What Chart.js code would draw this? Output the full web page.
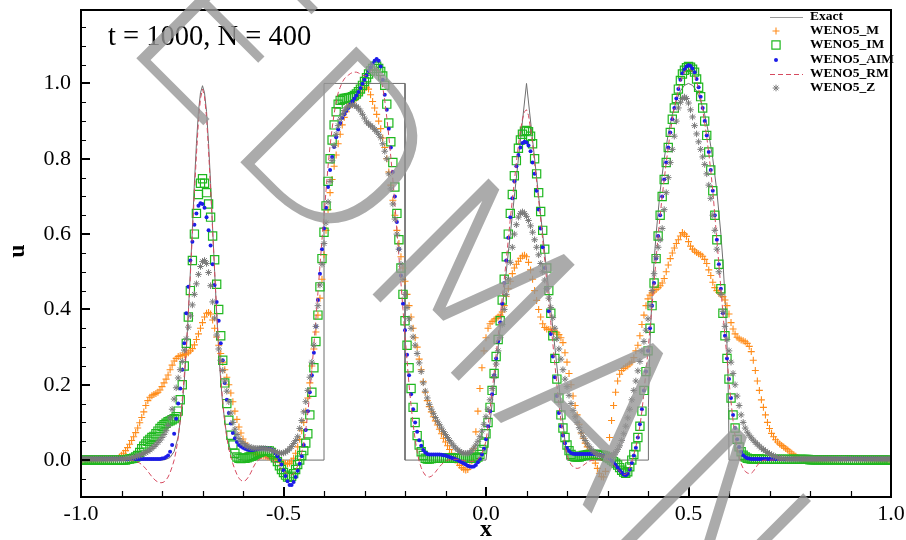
<!DOCTYPE html>
<html>
<head>
<meta charset="utf-8">
<title>t = 1000, N = 400</title>
<script src="https://cdn.jsdelivr.net/npm/chart.js@4.4.0/dist/chart.umd.min.js"></script>
<style>
  html, body { margin: 0; padding: 0; background: #fff; }
  #chart { display: block; }
</style>
</head>
<body>
<canvas id="chart" width="906" height="540"></canvas>
<script>
// Linear advection, Jiang-Shu initial data, t = 1000 on N = 400 cells.
// Solution values are sampled every 0.005 in x, one row per 0.1 of the domain.
const X_START = -1;
const X_STEP = 0.005;
const N_PTS = 401;

const xTickValues = [-1, -0.5, 0, 0.5, 1];
const xMinorTicks = [-0.9, -0.8, -0.7, -0.6, -0.4, -0.3, -0.2, -0.1, 0.1, 0.2, 0.3, 0.4, 0.6, 0.7, 0.8, 0.9];
const yTickValues = [0, 0.2, 0.4, 0.6, 0.8, 1.0];
const yMinorTicks = [-0.05, 0.05, 0.1, 0.15, 0.25, 0.3, 0.35, 0.45, 0.5, 0.55, 0.65, 0.7, 0.75, 0.85, 0.9, 0.95, 1.05, 1.1, 1.15];
const Y_MIN = -0.098;
const Y_MAX = 1.195;

// exact solution (gaussians, square, triangle, ellipse)
const exactX = [-1, -0.8, -0.79, -0.78, -0.77, -0.76, -0.75, -0.745, -0.74, -0.735, -0.73, -0.725, -0.72, -0.715, -0.71, -0.705,
  -0.7, -0.695, -0.69, -0.685, -0.68, -0.675, -0.67, -0.665, -0.66, -0.655, -0.65, -0.64, -0.63, -0.62, -0.61, -0.6,
  -0.4, -0.4, -0.2, -0.2, 0, 0.1, 0.2,
  0.4, 0.401, 0.403, 0.406, 0.41, 0.415, 0.42, 0.43, 0.44, 0.45, 0.46, 0.47, 0.48, 0.49, 0.5,
  0.51, 0.52, 0.53, 0.54, 0.55, 0.56, 0.57, 0.58, 0.585, 0.59, 0.594, 0.597, 0.599, 0.6, 1];
const exactU = [0, 0, 0.002, 0.007, 0.023, 0.062, 0.146, 0.21, 0.29, 0.39, 0.5, 0.615, 0.735, 0.84, 0.925, 0.975,
  0.994, 0.975, 0.925, 0.84, 0.735, 0.615, 0.5, 0.39, 0.29, 0.21, 0.146, 0.062, 0.023, 0.007, 0.002, 0,
  0, 1, 1, 0, 0, 1, 0,
  0, 0.14, 0.24, 0.34, 0.436, 0.527, 0.6, 0.714, 0.8, 0.866, 0.917, 0.954, 0.98, 0.995, 1,
  0.995, 0.98, 0.954, 0.917, 0.866, 0.8, 0.714, 0.6, 0.527, 0.436, 0.34, 0.24, 0.14, 0, 0];

const weno5M = [
  0, 0, 0, 0, 0, 0, 0, 0, 0, 0, 0, 0, 0, 0, 0, 0, 0, 0.002, 0.004, 0.008,
  0.013, 0.018, 0.025, 0.033, 0.042, 0.052, 0.062, 0.073, 0.085, 0.099, 0.113, 0.128, 0.145, 0.158, 0.167, 0.171, 0.174, 0.177, 0.18, 0.186,
  0.195, 0.205, 0.215, 0.226, 0.24, 0.252, 0.263, 0.27, 0.275, 0.277, 0.278, 0.28, 0.282, 0.285, 0.29, 0.296, 0.306, 0.32, 0.335, 0.35,
  0.365, 0.38, 0.39, 0.392, 0.388, 0.372, 0.35, 0.327, 0.305, 0.283, 0.26, 0.24, 0.22, 0.2, 0.178, 0.155, 0.13, 0.108, 0.088, 0.072,
  0.056, 0.045, 0.036, 0.029, 0.024, 0.02, 0.017, 0.015, 0.013, 0.012, 0.011, 0.01, 0.009, 0.008, 0.007, 0.005, 0.003, 0.001, -0.002, -0.005,
  -0.008, -0.01, -0.01, -0.008, -0.003, 0.005, 0.018, 0.035, 0.055, 0.078, 0.1, 0.13, 0.165, 0.205, 0.25, 0.295, 0.34, 0.385, 0.43, 0.48,
  0.545, 0.61, 0.665, 0.71, 0.745, 0.78, 0.81, 0.84, 0.865, 0.89, 0.91, 0.925, 0.937, 0.945, 0.95, 0.955, 0.962, 0.97, 0.977, 0.983,
  0.988, 0.99, 0.985, 0.97, 0.952, 0.935, 0.918, 0.9, 0.88, 0.855, 0.83, 0.8, 0.765, 0.73, 0.69, 0.65, 0.61, 0.575, 0.54, 0.51,
  0.475, 0.44, 0.41, 0.38, 0.35, 0.325, 0.3, 0.268, 0.24, 0.208, 0.18, 0.158, 0.142, 0.128, 0.115, 0.104, 0.093, 0.082, 0.07, 0.058,
  0.048, 0.038, 0.028, 0.018, 0.009, 0.001, -0.007, -0.014, -0.02, -0.024, -0.026, -0.025, -0.018, -0.002, 0.03, 0.075, 0.13, 0.19, 0.245, 0.29,
  0.325, 0.35, 0.362, 0.368, 0.372, 0.376, 0.38, 0.385, 0.393, 0.41, 0.435, 0.455, 0.475, 0.495, 0.51, 0.52, 0.528, 0.536, 0.542, 0.544,
  0.54, 0.525, 0.505, 0.48, 0.45, 0.424, 0.4, 0.38, 0.362, 0.352, 0.348, 0.347, 0.346, 0.345, 0.342, 0.338, 0.333, 0.325, 0.312, 0.285,
  0.26, 0.23, 0.2, 0.17, 0.145, 0.12, 0.095, 0.072, 0.058, 0.045, 0.035, 0.026, 0.017, 0.006, -0.008, -0.022, -0.035, -0.044, -0.045, -0.03,
  0.01, 0.06, 0.105, 0.145, 0.18, 0.21, 0.228, 0.238, 0.243, 0.247, 0.25, 0.255, 0.26, 0.272, 0.29, 0.305, 0.33, 0.36, 0.385, 0.41,
  0.428, 0.438, 0.444, 0.449, 0.453, 0.458, 0.463, 0.47, 0.482, 0.5, 0.518, 0.535, 0.55, 0.563, 0.575, 0.585, 0.595, 0.604, 0.6, 0.594,
  0.58, 0.568, 0.56, 0.555, 0.551, 0.548, 0.545, 0.541, 0.533, 0.522, 0.505, 0.49, 0.472, 0.458, 0.45, 0.445, 0.44, 0.434, 0.425, 0.41,
  0.388, 0.365, 0.348, 0.335, 0.326, 0.322, 0.319, 0.317, 0.314, 0.31, 0.302, 0.288, 0.265, 0.238, 0.21, 0.185, 0.16, 0.14, 0.12, 0.1,
  0.084, 0.071, 0.062, 0.054, 0.048, 0.043, 0.039, 0.035, 0.031, 0.027, 0.022, 0.018, 0.014, 0.01, 0.007, 0.005, 0.003, 0.002, 0.001, 0,
  0, 0, 0, 0, 0, 0, 0, 0, 0, 0, 0, 0, 0, 0, 0, 0, 0, 0, 0, 0,
  0, 0, 0, 0, 0, 0, 0, 0, 0, 0, 0, 0, 0, 0, 0, 0, 0, 0, 0, 0,
  0
];

const weno5IM = [
  0, 0, 0, 0, 0, 0, 0, 0, 0, 0, 0, 0, 0, 0, 0, 0, 0, 0, 0, 0,
  0, 0, 0, 0.002, 0.003, 0.004, 0.005, 0.008, 0.012, 0.02, 0.03, 0.037, 0.043, 0.05, 0.055, 0.06, 0.063, 0.07, 0.077, 0.084,
  0.089, 0.094, 0.098, 0.102, 0.104, 0.107, 0.11, 0.115, 0.13, 0.16, 0.2, 0.25, 0.31, 0.38, 0.45, 0.53, 0.6, 0.655, 0.705, 0.735,
  0.747, 0.735, 0.71, 0.68, 0.645, 0.595, 0.532, 0.467, 0.4, 0.33, 0.265, 0.205, 0.15, 0.106, 0.066, 0.04, 0.018, 0.008, 0.005, 0.004,
  0.005, 0.005, 0.006, 0.008, 0.01, 0.012, 0.015, 0.018, 0.02, 0.022, 0.024, 0.025, 0.025, 0.024, 0.02, 0.014, 0.006, -0.004, -0.015, -0.025,
  -0.033, -0.04, -0.045, -0.046, -0.043, -0.036, -0.025, -0.012, 0, 0.012, 0.025, 0.045, 0.07, 0.12, 0.18, 0.245, 0.315, 0.385, 0.46, 0.535,
  0.605, 0.675, 0.74, 0.8, 0.85, 0.89, 0.925, 0.945, 0.955, 0.958, 0.96, 0.961, 0.962, 0.963, 0.965, 0.968, 0.972, 0.978, 0.985, 0.995,
  1.005, 1.015, 1.025, 1.033, 1.04, 1.046, 1.046, 1.04, 1.032, 1.02, 0.995, 0.945, 0.895, 0.845, 0.79, 0.725, 0.655, 0.585, 0.51, 0.44,
  0.37, 0.305, 0.245, 0.19, 0.14, 0.1, 0.065, 0.04, 0.022, 0.012, 0.005, 0.003, 0.003, 0.004, 0.005, 0.005, 0.005, 0.005, 0.005, 0.005,
  0.005, 0.005, 0.005, 0.005, 0.005, 0.005, 0.005, 0.005, 0.005, 0.005, 0.005, 0.005, 0.005, 0.005, 0.005, 0.005, 0.008, 0.015, 0.028, 0.045,
  0.07, 0.1, 0.14, 0.185, 0.23, 0.275, 0.32, 0.37, 0.425, 0.48, 0.54, 0.6, 0.655, 0.705, 0.755, 0.795, 0.828, 0.85, 0.865, 0.873,
  0.875, 0.872, 0.86, 0.84, 0.8, 0.76, 0.71, 0.66, 0.61, 0.56, 0.51, 0.45, 0.39, 0.33, 0.27, 0.215, 0.165, 0.12, 0.085, 0.06,
  0.04, 0.025, 0.015, 0.01, 0.008, 0.008, 0.008, 0.01, 0.012, 0.013, 0.014, 0.015, 0.015, 0.015, 0.015, 0.015, 0.014, 0.013, 0.012, 0.01,
  0.007, 0.004, 0, -0.004, -0.008, -0.013, -0.02, -0.027, -0.032, -0.035, -0.031, -0.018, 0, 0.015, 0.035, 0.06, 0.09, 0.13, 0.185, 0.235,
  0.29, 0.35, 0.41, 0.47, 0.535, 0.595, 0.65, 0.7, 0.745, 0.79, 0.83, 0.87, 0.905, 0.935, 0.96, 0.985, 1.008, 1.025, 1.035, 1.042,
  1.045, 1.043, 1.038, 1.03, 1.012, 0.99, 0.965, 0.935, 0.9, 0.862, 0.818, 0.77, 0.715, 0.65, 0.585, 0.52, 0.455, 0.39, 0.33, 0.27,
  0.215, 0.165, 0.12, 0.085, 0.055, 0.035, 0.022, 0.013, 0.008, 0.005, 0.004, 0.003, 0.003, 0.003, 0.003, 0.003, 0.002, 0.002, 0.002, 0.002,
  0.002, 0.002, 0.002, 0.002, 0.002, 0.002, 0.002, 0.002, 0.002, 0.002, 0.002, 0.002, 0.002, 0.002, 0.002, 0.002, 0.002, 0.002, 0.002, 0.002,
  0.001, 0.001, 0.001, 0.001, 0.001, 0.001, 0.001, 0.001, 0.001, 0.001, 0.001, 0.001, 0.001, 0.001, 0.001, 0.001, 0.001, 0.001, 0.001, 0.001,
  0, 0, 0, 0, 0, 0, 0, 0, 0, 0, 0, 0, 0, 0, 0, 0, 0, 0, 0, 0,
  0
];

const weno5AIM = [
  0.003, 0.003, 0.003, 0.003, 0.003, 0.003, 0.003, 0.003, 0.003, 0.003, 0.003, 0.003, 0.003, 0.003, 0.003, 0.003, 0.003, 0.003, 0.003, 0.003,
  0.003, 0.003, 0.003, 0.003, 0.003, 0.003, 0.003, 0.003, 0.003, 0.003, 0.003, 0.003, 0.003, 0.003, 0.003, 0.003, 0.003, 0.003, 0.003, 0.003,
  0.004, 0.005, 0.008, 0.012, 0.022, 0.04, 0.07, 0.11, 0.15, 0.19, 0.24, 0.31, 0.39, 0.46, 0.53, 0.58, 0.625, 0.655, 0.675, 0.682,
  0.68, 0.67, 0.645, 0.61, 0.57, 0.52, 0.465, 0.42, 0.37, 0.31, 0.265, 0.205, 0.16, 0.125, 0.097, 0.072, 0.058, 0.048, 0.04, 0.036,
  0.033, 0.03, 0.028, 0.027, 0.027, 0.027, 0.028, 0.029, 0.03, 0.031, 0.031, 0.031, 0.031, 0.03, 0.028, 0.024, 0.018, 0.01, 0, -0.012,
  -0.027, -0.042, -0.056, -0.066, -0.066, -0.058, -0.045, -0.028, -0.01, 0.01, 0.04, 0.08, 0.13, 0.18, 0.225, 0.285, 0.355, 0.425, 0.495, 0.56,
  0.615, 0.67, 0.725, 0.77, 0.805, 0.831, 0.857, 0.878, 0.895, 0.908, 0.918, 0.927, 0.935, 0.944, 0.952, 0.96, 0.968, 0.977, 0.988, 0.999,
  1.01, 1.022, 1.033, 1.043, 1.052, 1.06, 1.065, 1.06, 1.045, 1.01, 0.97, 0.93, 0.88, 0.83, 0.765, 0.7, 0.632, 0.56, 0.49, 0.415,
  0.345, 0.28, 0.225, 0.175, 0.135, 0.1, 0.075, 0.053, 0.038, 0.027, 0.02, 0.016, 0.015, 0.015, 0.015, 0.015, 0.015, 0.015, 0.014, 0.013,
  0.012, 0.01, 0.008, 0.006, 0.004, 0.002, 0, -0.003, -0.006, -0.009, -0.012, -0.015, -0.017, -0.018, -0.017, -0.013, -0.006, 0.003, 0.015, 0.03,
  0.055, 0.09, 0.13, 0.175, 0.225, 0.27, 0.315, 0.365, 0.415, 0.47, 0.53, 0.59, 0.645, 0.695, 0.74, 0.78, 0.81, 0.83, 0.842, 0.845,
  0.843, 0.835, 0.82, 0.79, 0.76, 0.715, 0.665, 0.615, 0.565, 0.51, 0.455, 0.395, 0.335, 0.275, 0.22, 0.17, 0.125, 0.09, 0.065, 0.045,
  0.032, 0.024, 0.019, 0.017, 0.016, 0.016, 0.016, 0.016, 0.016, 0.016, 0.016, 0.016, 0.016, 0.016, 0.016, 0.015, 0.014, 0.013, 0.011, 0.009,
  0.007, 0.004, -0.001, -0.007, -0.013, -0.02, -0.027, -0.033, -0.038, -0.04, -0.036, -0.025, -0.008, 0.012, 0.033, 0.06, 0.095, 0.135, 0.185, 0.235,
  0.29, 0.35, 0.41, 0.47, 0.535, 0.595, 0.65, 0.7, 0.745, 0.79, 0.83, 0.87, 0.905, 0.935, 0.96, 0.985, 1.01, 1.027, 1.038, 1.045,
  1.048, 1.046, 1.04, 1.03, 1.012, 0.99, 0.965, 0.935, 0.9, 0.862, 0.818, 0.77, 0.715, 0.65, 0.585, 0.52, 0.455, 0.39, 0.33, 0.27,
  0.215, 0.165, 0.12, 0.085, 0.055, 0.035, 0.022, 0.013, 0.008, 0.005, 0.004, 0.003, 0.003, 0.003, 0.003, 0.003, 0.003, 0.003, 0.003, 0.003,
  0.003, 0.003, 0.003, 0.003, 0.003, 0.003, 0.003, 0.003, 0.003, 0.003, 0.003, 0.003, 0.003, 0.003, 0.003, 0.003, 0.003, 0.003, 0.003, 0.003,
  0.003, 0.003, 0.003, 0.003, 0.003, 0.003, 0.003, 0.003, 0.003, 0.003, 0.003, 0.003, 0.003, 0.003, 0.003, 0.003, 0.003, 0.003, 0.003, 0.003,
  0.003, 0.003, 0.003, 0.003, 0.003, 0.003, 0.003, 0.003, 0.003, 0.003, 0.003, 0.003, 0.003, 0.003, 0.003, 0.003, 0.003, 0.003, 0.003, 0.003,
  0.003
];

const weno5RM = [
  0, 0, 0, 0, 0, 0, 0, 0, 0, 0, 0, 0, 0, 0, 0, 0, 0, 0, 0, 0,
  0, 0, 0, 0, 0, -0.001, -0.002, -0.003, -0.005, -0.008, -0.012, -0.017, -0.023, -0.03, -0.037, -0.044, -0.05, -0.055, -0.058, -0.06,
  -0.06, -0.058, -0.053, -0.045, -0.033, -0.018, 0, 0.025, 0.06, 0.105, 0.16, 0.225, 0.3, 0.39, 0.49, 0.6, 0.71, 0.81, 0.9, 0.96,
  0.985, 0.965, 0.91, 0.82, 0.72, 0.61, 0.5, 0.395, 0.3, 0.22, 0.155, 0.1, 0.06, 0.03, 0.008, -0.01, -0.025, -0.038, -0.048, -0.054,
  -0.056, -0.055, -0.05, -0.042, -0.032, -0.02, -0.01, -0.003, 0.002, 0.005, 0.006, 0.006, 0.005, 0.003, 0, -0.004, -0.008, -0.013, -0.018, -0.023,
  -0.028, -0.033, -0.037, -0.04, -0.04, -0.036, -0.028, -0.015, 0, 0.02, 0.045, 0.08, 0.125, 0.18, 0.24, 0.305, 0.375, 0.445, 0.515, 0.585,
  0.65, 0.715, 0.78, 0.835, 0.88, 0.92, 0.95, 0.975, 0.99, 1.003, 1.012, 1.018, 1.022, 1.026, 1.029, 1.03, 1.03, 1.028, 1.025, 1.022,
  1.02, 1.022, 1.027, 1.033, 1.038, 1.04, 1.038, 1.03, 1.015, 0.99, 0.955, 0.91, 0.86, 0.805, 0.745, 0.68, 0.61, 0.54, 0.47, 0.4,
  0.33, 0.265, 0.2, 0.145, 0.095, 0.055, 0.022, -0.003, -0.02, -0.032, -0.04, -0.044, -0.045, -0.043, -0.038, -0.032, -0.025, -0.018, -0.012, -0.007,
  -0.003, 0, 0.001, 0.002, 0.002, 0.002, 0.002, 0.001, 0, -0.001, -0.002, -0.003, -0.004, -0.004, -0.003, -0.001, 0.002, 0.008, 0.018, 0.032,
  0.05, 0.09, 0.135, 0.18, 0.23, 0.28, 0.33, 0.38, 0.43, 0.48, 0.53, 0.585, 0.64, 0.69, 0.74, 0.79, 0.835, 0.875, 0.905, 0.925,
  0.93, 0.915, 0.88, 0.84, 0.79, 0.74, 0.69, 0.64, 0.585, 0.53, 0.475, 0.42, 0.365, 0.31, 0.255, 0.2, 0.15, 0.105, 0.068, 0.038,
  0.015, -0.002, -0.012, -0.018, -0.021, -0.022, -0.021, -0.018, -0.014, -0.01, -0.006, -0.003, -0.001, 0, 0.001, 0.001, 0.001, 0, 0, 0,
  0, -0.003, -0.007, -0.012, -0.018, -0.024, -0.03, -0.035, -0.038, -0.038, -0.033, -0.02, -0.003, 0.015, 0.035, 0.06, 0.09, 0.13, 0.18, 0.235,
  0.29, 0.35, 0.41, 0.47, 0.535, 0.595, 0.65, 0.7, 0.745, 0.79, 0.83, 0.87, 0.905, 0.935, 0.96, 0.985, 1.005, 1.02, 1.03, 1.036,
  1.038, 1.036, 1.03, 1.02, 1.005, 0.985, 0.96, 0.93, 0.895, 0.858, 0.815, 0.768, 0.715, 0.65, 0.585, 0.52, 0.455, 0.39, 0.33, 0.27,
  0.21, 0.155, 0.105, 0.065, 0.032, 0.008, -0.01, -0.022, -0.03, -0.034, -0.036, -0.035, -0.03, -0.022, -0.014, -0.007, -0.003, -0.001, 0, 0,
  0, 0, 0, 0, 0, 0, 0, 0, 0, 0, 0, 0, 0, 0, 0, 0, 0, 0, 0, 0,
  0, 0, 0, 0, 0, 0, 0, 0, 0, 0, 0, 0, 0, 0, 0, 0, 0, 0, 0, 0,
  0, 0, 0, 0, 0, 0, 0, 0, 0, 0, 0, 0, 0, 0, 0, 0, 0, 0, 0, 0,
  0
];

const weno5Z = [
  0.003, 0.003, 0.003, 0.003, 0.003, 0.003, 0.003, 0.003, 0.003, 0.003, 0.003, 0.003, 0.003, 0.003, 0.003, 0.003, 0.003, 0.003, 0.003, 0.003,
  0.003, 0.003, 0.004, 0.004, 0.005, 0.006, 0.007, 0.009, 0.011, 0.013, 0.015, 0.018, 0.02, 0.023, 0.027, 0.031, 0.036, 0.041, 0.047, 0.053,
  0.06, 0.068, 0.078, 0.092, 0.112, 0.135, 0.162, 0.192, 0.218, 0.24, 0.262, 0.292, 0.322, 0.353, 0.383, 0.412, 0.44, 0.468, 0.493, 0.514,
  0.527, 0.53, 0.522, 0.498, 0.463, 0.42, 0.377, 0.332, 0.295, 0.265, 0.238, 0.21, 0.183, 0.155, 0.125, 0.1, 0.082, 0.068, 0.057, 0.049,
  0.044, 0.04, 0.037, 0.035, 0.033, 0.032, 0.031, 0.031, 0.031, 0.031, 0.031, 0.03, 0.029, 0.028, 0.026, 0.024, 0.022, 0.02, 0.019, 0.018,
  0.019, 0.021, 0.025, 0.03, 0.036, 0.044, 0.052, 0.062, 0.084, 0.105, 0.128, 0.155, 0.185, 0.22, 0.26, 0.305, 0.355, 0.41, 0.465, 0.52,
  0.575, 0.63, 0.685, 0.74, 0.795, 0.835, 0.865, 0.888, 0.905, 0.918, 0.928, 0.935, 0.94, 0.942, 0.943, 0.942, 0.939, 0.934, 0.927, 0.918,
  0.908, 0.898, 0.893, 0.888, 0.884, 0.878, 0.872, 0.865, 0.856, 0.84, 0.82, 0.8, 0.76, 0.72, 0.68, 0.64, 0.6, 0.56, 0.52, 0.48,
  0.44, 0.405, 0.375, 0.35, 0.327, 0.305, 0.283, 0.258, 0.235, 0.205, 0.183, 0.165, 0.148, 0.135, 0.124, 0.113, 0.103, 0.094, 0.085, 0.076,
  0.068, 0.06, 0.052, 0.045, 0.038, 0.032, 0.027, 0.023, 0.02, 0.018, 0.018, 0.018, 0.02, 0.025, 0.032, 0.04, 0.05, 0.062, 0.077, 0.095,
  0.115, 0.135, 0.16, 0.19, 0.222, 0.255, 0.29, 0.325, 0.36, 0.4, 0.44, 0.48, 0.525, 0.565, 0.6, 0.625, 0.645, 0.655, 0.659, 0.655,
  0.647, 0.636, 0.622, 0.605, 0.585, 0.565, 0.545, 0.522, 0.5, 0.478, 0.455, 0.43, 0.405, 0.378, 0.35, 0.322, 0.295, 0.268, 0.24, 0.215,
  0.195, 0.172, 0.15, 0.132, 0.115, 0.1, 0.086, 0.074, 0.062, 0.052, 0.043, 0.035, 0.029, 0.023, 0.019, 0.015, 0.013, 0.011, 0.01, 0.009,
  0.009, 0.01, 0.012, 0.015, 0.02, 0.028, 0.038, 0.052, 0.07, 0.09, 0.112, 0.135, 0.16, 0.185, 0.21, 0.237, 0.262, 0.29, 0.315, 0.345,
  0.375, 0.41, 0.45, 0.495, 0.54, 0.565, 0.585, 0.615, 0.665, 0.71, 0.75, 0.79, 0.825, 0.86, 0.9, 0.935, 0.95, 0.96, 0.964, 0.96,
  0.948, 0.93, 0.911, 0.888, 0.866, 0.845, 0.825, 0.805, 0.785, 0.76, 0.73, 0.695, 0.65, 0.61, 0.56, 0.5, 0.44, 0.395, 0.355, 0.32,
  0.29, 0.26, 0.23, 0.2, 0.17, 0.145, 0.12, 0.1, 0.085, 0.074, 0.066, 0.059, 0.053, 0.047, 0.042, 0.037, 0.032, 0.028, 0.024, 0.02,
  0.017, 0.014, 0.011, 0.009, 0.007, 0.006, 0.005, 0.004, 0.004, 0.003, 0.003, 0.003, 0.003, 0.003, 0.003, 0.003, 0.003, 0.003, 0.003, 0.003,
  0.003, 0.003, 0.003, 0.003, 0.003, 0.003, 0.003, 0.003, 0.003, 0.003, 0.003, 0.003, 0.003, 0.003, 0.003, 0.003, 0.003, 0.003, 0.003, 0.003,
  0.003, 0.003, 0.003, 0.003, 0.003, 0.003, 0.003, 0.003, 0.003, 0.003, 0.003, 0.003, 0.003, 0.003, 0.003, 0.003, 0.003, 0.003, 0.003, 0.003,
  0.003
];

const xGrid = Array.from({ length: N_PTS }, (_, k) => +(X_START + k * X_STEP).toFixed(3));

function toPoints(name, ys) {
  if (ys.length !== N_PTS) throw new Error(name + " has " + ys.length + " values");
  return ys.map((y, k) => ({ x: xGrid[k], y: y }));
}

const SERIF = '"Liberation Serif", "Times New Roman", serif';

// frame, inward ticks, annotation, axis titles, legend, stamp
const decorPlugin = {
  id: "decor",
  afterDraw(chart) {
    const ctx = chart.ctx;
    const area = chart.chartArea;
    const xs = chart.scales.x;
    const ys = chart.scales.y;

    ctx.save();
    ctx.strokeStyle = "#000";
    ctx.lineWidth = 1.2;
    ctx.beginPath();
    xMinorTicks.forEach(v => {
      const px = Math.round(xs.getPixelForValue(v)) + 0.5;
      ctx.moveTo(px, area.bottom);
      ctx.lineTo(px, area.bottom - 6);
    });
    yMinorTicks.forEach(v => {
      const py = Math.round(ys.getPixelForValue(v)) + 0.5;
      ctx.moveTo(area.left, py);
      ctx.lineTo(area.left + 5, py);
    });
    ctx.stroke();

    ctx.lineWidth = 2;
    ctx.beginPath();
    xTickValues.forEach(v => {
      const px = Math.round(xs.getPixelForValue(v));
      ctx.moveTo(px, area.bottom);
      ctx.lineTo(px, area.bottom - 10);
    });
    yTickValues.forEach(v => {
      const py = Math.round(ys.getPixelForValue(v));
      ctx.moveTo(area.left, py);
      ctx.lineTo(area.left + 9, py);
    });
    ctx.stroke();

    ctx.lineWidth = 2;
    ctx.strokeRect(area.left, area.top, area.right - area.left, area.bottom - area.top);

    // annotation
    ctx.fillStyle = "#000";
    ctx.font = "28.5px " + SERIF;
    ctx.textAlign = "left";
    ctx.textBaseline = "alphabetic";
    ctx.fillText("t = 1000, N = 400", 108, 45);

    // axis titles
    ctx.font = "bold 24px " + SERIF;
    ctx.textAlign = "center";
    ctx.textBaseline = "middle";
    ctx.fillText("x", (area.left + area.right) / 2, 530);
    ctx.save();
    ctx.translate(18, 251);
    ctx.rotate(-Math.PI / 2);
    ctx.fillText("u", 0, 0);
    ctx.restore();

    // legend
    const rows = [17, 31, 45, 60, 74, 88];
    ctx.font = "bold 13.5px " + SERIF;
    ctx.textAlign = "left";
    ctx.textBaseline = "middle";
    chart.data.datasets.forEach((ds, i) => {
      const y = rows[i];
      ctx.save();
      if (ds.showLine) {
        ctx.strokeStyle = ds.label === "Exact" ? "#9a9a9a" : ds.borderColor;
        ctx.lineWidth = ds.borderWidth;
        ctx.setLineDash(ds.borderDash || []);
        ctx.beginPath();
        ctx.moveTo(770, y + 0.5);
        ctx.lineTo(803, y + 0.5);
        ctx.stroke();
      } else {
        ctx.strokeStyle = ds.borderColor;
        ctx.fillStyle = ds.backgroundColor;
        ctx.lineWidth = ds.pointBorderWidth;
        Chart.helpers.drawPoint(ctx, {
          pointStyle: ds.pointStyle,
          radius: ds.pointRadius,
          rotation: 0,
          borderWidth: ds.pointBorderWidth
        }, 776, y);
      }
      ctx.restore();
      ctx.fillStyle = "#000";
      ctx.fillText(ds.label, 810, y);
    });

    // stamp across the plot
    ctx.save();
    ctx.fillStyle = "rgba(150, 150, 150, 0.8)";
    ctx.font = '200 225px "DejaVu Sans"';
    ctx.textAlign = "left";
    ctx.textBaseline = "alphabetic";
    const ang = 45 * Math.PI / 180;
    const bx = Math.cos(ang), by = Math.sin(ang);
    let px = 117, py = 39;
    for (const ch of "EDMAN") {
      ctx.save();
      ctx.translate(px, py);
      ctx.rotate(ang);
      ctx.fillText(ch, 0, 0);
      ctx.restore();
      const adv = ctx.measureText(ch).width + 5;
      px += adv * bx;
      py += adv * by;
    }
    ctx.restore();

    ctx.restore();
  }
};

const axisFont = { family: SERIF, size: 22 };

new Chart(document.getElementById("chart"), {
  type: "scatter",
  data: {
    datasets: [
      {
        label: "Exact",
        data: exactX.map((x, i) => ({ x: x, y: exactU[i] })),
        showLine: true,
        borderColor: "#6f6f6f",
        backgroundColor: "#6f6f6f",
        borderWidth: 1,
        pointRadius: 0,
        order: 6
      },
      {
        label: "WENO5_M",
        data: toPoints("WENO5_M", weno5M),
        pointStyle: "cross",
        pointRadius: 3.5,
        borderColor: "#ff8c1a",
        backgroundColor: "#ff8c1a",
        pointBorderWidth: 1.1,
        order: 5
      },
      {
        label: "WENO5_IM",
        data: toPoints("WENO5_IM", weno5IM),
        pointStyle: "rect",
        pointRadius: 5.8,
        borderColor: "#1fb81f",
        backgroundColor: "rgba(0,0,0,0)",
        pointBorderWidth: 1.2,
        order: 4
      },
      {
        label: "WENO5_AIM",
        data: toPoints("WENO5_AIM", weno5AIM),
        pointStyle: "circle",
        pointRadius: 2,
        borderColor: "#1c1ce8",
        backgroundColor: "#1c1ce8",
        pointBorderWidth: 0,
        order: 3
      },
      {
        label: "WENO5_RM",
        data: toPoints("WENO5_RM", weno5RM),
        showLine: true,
        borderColor: "#d64a5f",
        backgroundColor: "#d64a5f",
        borderWidth: 1,
        borderDash: [5, 3],
        pointRadius: 0,
        order: 2
      },
      {
        label: "WENO5_Z",
        data: toPoints("WENO5_Z", weno5Z),
        pointStyle: "star",
        pointRadius: 3.3,
        borderColor: "#7a7a7a",
        backgroundColor: "#7a7a7a",
        pointBorderWidth: 1,
        order: 1
      }
    ]
  },
  options: {
    responsive: false,
    animation: false,
    events: [],
    layout: { padding: { top: 10, right: 15, left: 0, bottom: 0 } },
    plugins: {
      legend: { display: false },
      tooltip: { enabled: false }
    },
    scales: {
      x: {
        type: "linear",
        min: -1,
        max: 1,
        afterBuildTicks: s => { s.ticks = xTickValues.map(v => ({ value: v })); },
        afterFit: s => { s.height = 43; s.paddingLeft = 0; s.paddingRight = 0; },
        grid: { display: false, drawTicks: false },
        border: { display: false },
        ticks: {
          padding: 4,
          color: "#000",
          font: axisFont,
          maxRotation: 0,
          autoSkip: false,
          callback: v => v.toFixed(1)
        }
      },
      y: {
        type: "linear",
        min: Y_MIN,
        max: Y_MAX,
        afterBuildTicks: s => { s.ticks = yTickValues.map(v => ({ value: v })); },
        afterFit: s => { s.width = 81; s.paddingTop = 0; s.paddingBottom = 0; },
        grid: { display: false, drawTicks: false },
        border: { display: false },
        ticks: {
          padding: 10,
          color: "#000",
          font: axisFont,
          autoSkip: false,
          callback: v => v.toFixed(1)
        }
      }
    }
  },
  plugins: [decorPlugin]
});
</script>
</body>
</html>
